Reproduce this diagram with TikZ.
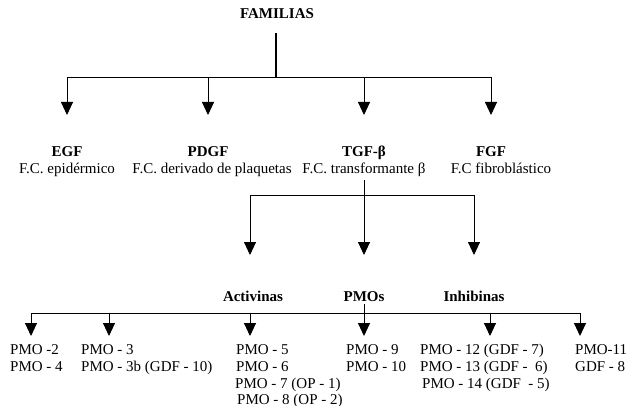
\documentclass[tikz,border=0pt]{standalone}
\usepackage{fontspec}
\setmainfont{Liberation Serif}
\usetikzlibrary{arrows.meta}
\begin{document}
\begin{tikzpicture}[x=1pt,y=-1pt,
  lbl/.style={font=\fontsize{15}{17}\selectfont\bfseries, anchor=base, inner sep=0pt},
  txt/.style={font=\fontsize{15}{17}\selectfont, anchor=base, inner sep=0pt},
  ln/.style={font=\fontsize{15}{17}\selectfont, anchor=base west, inner sep=0pt},
  conn/.style={line width=0.9pt},
  trunk/.style={line width=2pt},
  arr/.style={conn, -{Triangle[width=12pt,length=13pt]}},
]
\useasboundingbox (0,0) rectangle (628,406);

% top
\node[lbl] (fam) at (277,19) {FAMILIAS};
\coordinate (j0) at (276,77);
\coordinate (a1) at (67,115);
\coordinate (a2) at (208,115);
\coordinate (a3) at (364,115);
\coordinate (a4) at (491,115);
\draw[trunk] ([xshift=-1pt,yshift=-14pt]fam.south) -- (j0);
\foreach \t in {a1,a2,a3,a4} \draw[arr] (j0) -| (\t);

% families
\node[lbl] (egf) at (67,157) {EGF};
\node[lbl] (pdgf) at (208,157) {PDGF};
\node[lbl] (tgf) at (364,157) {TGF-β};
\node[lbl] (fgf) at (491,157) {FGF};
\node[txt] (egfs) at (67,173) {F.C. epidérmico};
\node[txt] (pdgfs) at (212,173) {F.C. derivado de plaquetas};
\node[txt] (tgfs) at (364,173) {F.C. transformante β};
\node[txt] (fgfs) at (501,173) {F.C fibroblástico};

% TGF subfamilies
\coordinate (j1) at (364,195);
\coordinate (a5) at (250,255);
\coordinate (a6) at (364,255);
\coordinate (a7) at (474,255);
\draw[arr] ([yshift=-4pt]tgfs.south) -- (a6);
\draw[arr] (j1) -| (a5);
\draw[arr] (j1) -| (a7);

\node[lbl] (act) at (253,301) {Activinas};
\node[lbl] (pmos) at (364,301) {PMOs};
\node[lbl] (inh) at (474,301) {Inhibinas};

% PMOs
\coordinate (j2) at (364,313);
\coordinate (b1) at (31,336);
\coordinate (b2) at (109,336);
\coordinate (b3) at (250,336);
\coordinate (b4) at (364,336);
\coordinate (b5) at (490,336);
\coordinate (b6) at (580,336);
\draw[conn] ([yshift=-3pt]pmos.south) -- (j2);
\foreach \t in {b1,b2,b3,b4,b5,b6} \draw[arr] (j2) -| (\t);

% members
\node[ln] (m1a) at (10,354) {PMO -2};
\node[ln] (m1b) at (10,371) {PMO - 4};
\node[ln] (m2a) at (81,354) {PMO - 3};
\node[ln] (m2b) at (81,371) {PMO - 3b (GDF - 10)};
\node[ln] (m3a) at (236,354) {PMO - 5};
\node[ln] (m3b) at (236,371) {PMO - 6};
\node[ln] (m3c) at (235,388) {PMO - 7 (OP - 1)};
\node[ln] (m3d) at (237,404) {PMO - 8 (OP - 2)};
\node[ln] (m4a) at (346,354) {PMO - 9};
\node[ln] (m4b) at (346,371) {PMO - 10};
\node[ln] (m5a) at (420,354) {PMO - 12 (GDF - 7)};
\node[ln] (m5b) at (420,371) {PMO - 13 (GDF -\ \ 6)};
\node[ln] (m5c) at (422,388) {PMO - 14 (GDF\ \ - 5)};
\node[ln] (m6a) at (575,354) {PMO-11};
\node[ln] (m6b) at (575,371) {GDF - 8};
\end{tikzpicture}
\end{document}
